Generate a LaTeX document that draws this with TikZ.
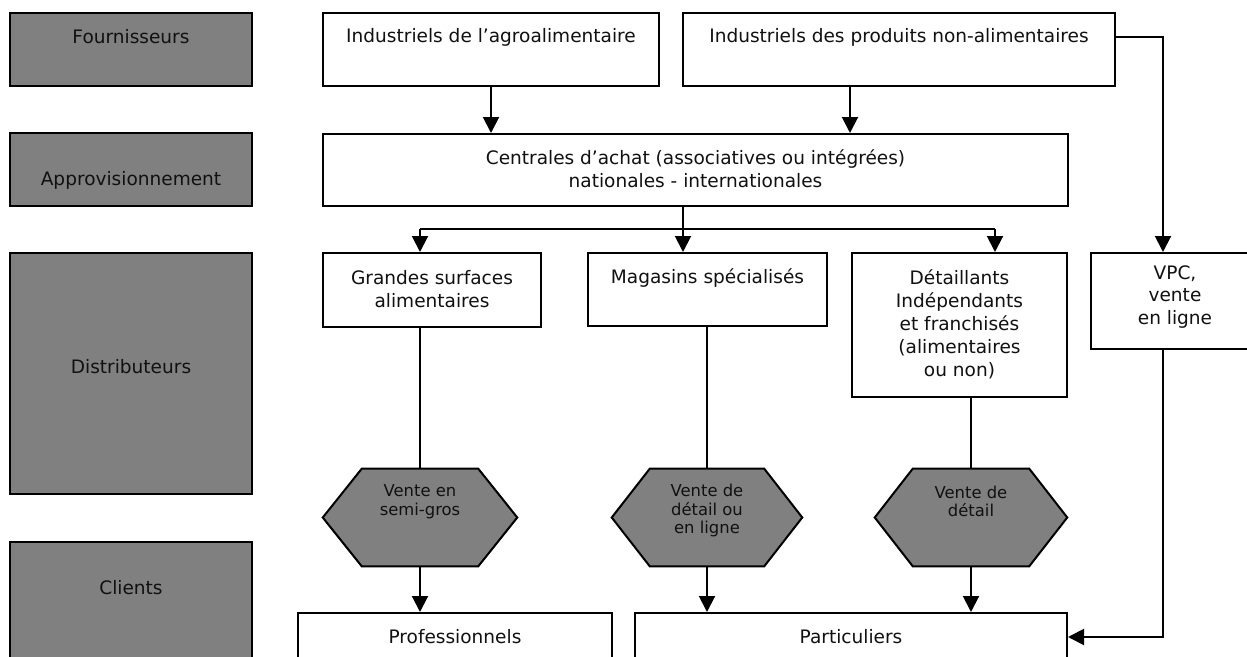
\documentclass[tikz,border=0pt]{standalone}
\usepackage{fontspec}
\setmainfont{DejaVu Sans}
\usetikzlibrary{fit,arrows.meta,calc}
\definecolor{gray50}{HTML}{808080}
\definecolor{ink}{HTML}{111111}
\begin{document}
\begin{tikzpicture}[x=0.75pt,y=-0.75pt,
  box/.style={draw=black, line width=1.5pt, fill=white, inner sep=0pt},
  graybox/.style={box, fill=gray50},
  frame/.style={inner sep=0pt},
  hexshape/.style={draw=black, line width=1.5pt, fill=gray50, line join=miter},
  txt/.style={font=\fontsize{13.9}{17.2}\selectfont, text=ink, align=center, inner sep=0pt},
  htxt/.style={font=\fontsize{12.3}{14}\selectfont, text=ink, align=center, inner sep=0pt},
  conn/.style={line width=1.5pt},
  arr/.style={conn, -{Triangle[width=12pt,length=12pt]}}]
\useasboundingbox (0,0) rectangle (1247,657);
\clip (0,0) rectangle (1247,657);
% left gray bands
\node[graybox, fit={(10,13)(252,86)}] (four) {};
\node[graybox, fit={(10,133)(252,206)}] (appro) {};
\node[graybox, fit={(10,253)(252,494)}] (dist) {};
\node[graybox, fit={(10,542)(252,700)}] (cli) {};
\node[txt] at (131,37) {Fournisseurs};
\node[txt] at (131,180) {Approvisionnement};
\node[txt] at (131,367) {Distributeurs};
\node[txt] at (131,588) {Clients};
% boxes
\node[box, fit={(323,13)(659,86)}] (agro) {};
\node[txt] at (491,37) {Industriels de l’agroalimentaire};
\node[box, fit={(683,13)(1115,86)}] (nonalim) {};
\node[txt] at (899,37) {Industriels des produits non-alimentaires};
\node[box, fit={(323,134)(1068,206)}] (cent) {};
\node[txt] at (695.5,168.5) {Centrales d’achat (associatives ou intégrées)\\nationales - internationales};
\node[box, fit={(323,253)(541,327)}] (gs) {};
\node[txt] at (432,289.5) {Grandes surfaces\\alimentaires};
\node[box, fit={(588,253)(827,326)}] (mag) {};
\node[txt] at (707.5,278) {Magasins spécialisés};
\node[box, fit={(852,253)(1067,397)}] (det) {};
\node[txt] at (959.5,324.5) {Détaillants\\Indépendants\\et franchisés\\(alimentaires\\ou non)};
\node[box, fit={(1091,253)(1260,349)}] (vpc) {};
\node[txt] at (1175,297) {VPC,\\vente\\en ligne};
\node[box, fit={(298,613)(612,700)}] (prof) {};
\node[txt] at (455,637) {Professionnels};
\node[box, fit={(635,613)(1067,700)}] (part) {};
\node[txt] at (851,637) {Particuliers};
% hexagons
\node[frame, fit={(323,469)(517,566)}] (h1) {};
\node[frame, fit={(612,469)(802,566)}] (h2) {};
\node[frame, fit={(875,469)(1067,566)}] (h3) {};
\foreach \h/\d in {h1/39,h2/38,h3/38}{
  \draw[hexshape] (\h.west) -- ($(\h.north west)+(\d,0)$) -- ($(\h.north east)+(-\d,0)$)
    -- (\h.east) -- ($(\h.south east)+(-\d,0)$) -- ($(\h.south west)+(\d,0)$) -- cycle;
}
\node[htxt] at (420,501.5) {Vente en\\semi-gros};
\node[htxt] at (707,510.5) {Vente de\\détail ou\\en ligne};
\node[htxt] at (971,501.5) {Vente de\\détail};
% connectors
\draw[arr] (agro.south) -- (agro.south |- cent.north);
\coordinate (na1) at ($(nonalim.south west)+(168,0)$);
\draw[arr] (na1) -- (na1 |- cent.north);
\coordinate (v1) at ($(nonalim.north east)+(0,25)$);
\coordinate (vx) at (1163,0);
\draw[arr] (v1) -- (v1 -| vx) -- (vx |- vpc.north);
\coordinate (bj) at (683,229);
\coordinate (bl) at (420,229);
\coordinate (br) at (995,229);
\draw[conn] (cent.south -| bj) -- (bj);
\draw[conn] (bl) -- (br);
\draw[arr] (bj) -- (bj |- mag.north);
\draw[arr] (bl) -- (bl |- gs.north);
\draw[arr] (br) -- (br |- det.north);
\draw[conn] (gs.south -| h1.north) -- (h1.north);
\draw[conn] (mag.south -| h2.north) -- (h2.north);
\draw[conn] (det.south -| h3.north) -- (h3.north);
\draw[arr] (h1.south) -- (h1.south |- prof.north);
\draw[arr] (h2.south) -- (h2.south |- part.north);
\draw[arr] (h3.south) -- (h3.south |- part.north);
\coordinate (pin) at ($(part.north east)+(0,25)$);
\draw[arr] (vpc.south -| vx) |- (pin);
\end{tikzpicture}
\end{document}
